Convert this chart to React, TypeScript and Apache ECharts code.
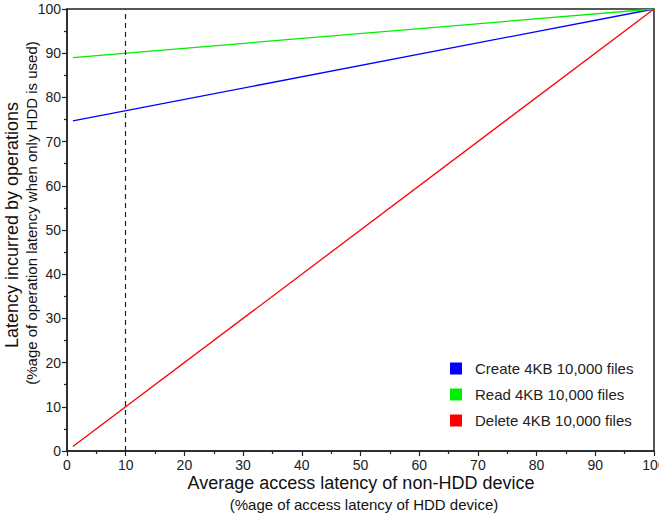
import React, { useEffect, useRef } from "react";
import * as echarts from "echarts";

const xTicks = [0, 100];
const seriesNames = ["Create 4KB 10,000 files", "Read 4KB 10,000 files", "Delete 4KB 10,000 files"];
const seriesColors = ["#0000ff", "#00ee00", "#ff0000"];
const xValues = [1, 100];
const createValues = [74.7, 100];
const readValues = [89, 100];
const deleteValues = [1, 100];
const markerX = 10;

const FONT = "'Liberation Sans', Arial, sans-serif";

export default function App() {
  const ref = useRef<HTMLDivElement>(null);
  useEffect(() => {
    if (!ref.current) return;
    const chart = echarts.init(ref.current, null, { renderer: "svg" });
    const all = [createValues, readValues, deleteValues];
    const axisCommon = {
      min: xTicks[0],
      max: xTicks[1],
      interval: 10,
      axisLine: { show: true, onZero: false, lineStyle: { color: "#222", width: 1.5 } },
      axisTick: { show: true, inside: false, length: 5, lineStyle: { color: "#222", width: 1.2 } },
      minorTick: { show: true, splitNumber: 2, length: 3, lineStyle: { color: "#222", width: 1.2 } },
      splitLine: { show: false },
      axisLabel: { color: "#222", fontSize: 14, fontFamily: FONT },
    };
    chart.setOption({
      animation: false,
      backgroundColor: "#fff",
      grid: {
        left: 67,
        right: 5,
        top: 9,
        bottom: 64,
        show: true,
        borderColor: "#222",
        borderWidth: 1.5,
        outerBoundsMode: "none",
        containLabel: false,
      },
      xAxis: { type: "value", ...axisCommon, axisLabel: { ...axisCommon.axisLabel, margin: 7 } },
      yAxis: { type: "value", ...axisCommon, axisLabel: { ...axisCommon.axisLabel, margin: 6 } },
      legend: {
        orient: "vertical",
        left: 445,
        top: 356,
        icon: "rect",
        itemWidth: 12,
        itemHeight: 12,
        itemGap: 11,
        textStyle: { fontSize: 15, lineHeight: 14, color: "#222", fontFamily: FONT, padding: [0, 0, 0, 8] },
        data: seriesNames,
      },
      series: seriesNames.map((name, i) => ({
        name,
        type: "line",
        data: xValues.map((x, j) => [x, all[i][j]]),
        showSymbol: false,
        symbol: "none",
        lineStyle: { color: seriesColors[i], width: 1.3 },
        itemStyle: { color: seriesColors[i] },
        markLine:
          i === 0
            ? {
                silent: true,
                symbol: "none",
                label: { show: false },
                lineStyle: { color: "#222", type: [5, 4], width: 1.2 },
                data: [{ xAxis: markerX }],
              }
            : undefined,
      })),
      graphic: [
        {
          type: "text",
          x: 361,
          y: 483,
          style: {
            text: "Average access latency of non-HDD device",
            fontSize: 18,
            fontFamily: FONT,
            fill: "#111",
            align: "center",
            verticalAlign: "middle",
          },
        },
        {
          type: "text",
          x: 364,
          y: 504,
          style: {
            text: "(%age of access latency of HDD device)",
            fontSize: 15,
            fontFamily: FONT,
            fill: "#111",
            align: "center",
            verticalAlign: "middle",
          },
        },
        {
          type: "text",
          x: 12,
          y: 225,
          rotation: Math.PI / 2,
          style: {
            text: "Latency incurred by operations",
            fontSize: 18,
            fontFamily: FONT,
            fill: "#111",
            align: "center",
            verticalAlign: "middle",
          },
        },
        {
          type: "text",
          x: 31,
          y: 213,
          rotation: Math.PI / 2,
          style: {
            text: "(%age of operation latency when only HDD is used)",
            fontSize: 15,
            fontFamily: FONT,
            fill: "#111",
            align: "center",
            verticalAlign: "middle",
          },
        },
      ],
    });
    return () => chart.dispose();
  }, []);
  return <div ref={ref} style={{ width: 659, height: 515, position: "absolute", left: 0, top: 0 }} />;
}
